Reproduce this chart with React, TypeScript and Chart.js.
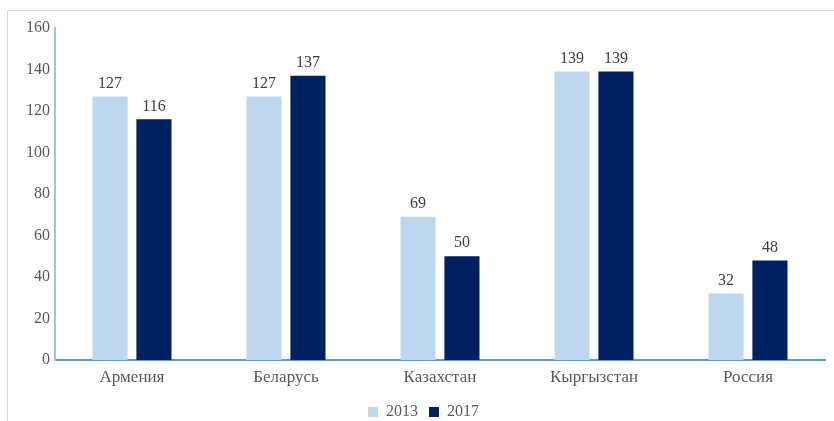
import React, { useEffect, useRef } from "react";
import { Chart, registerables } from "chart.js";

Chart.register(...registerables);

const categories = ["Армения", "Беларусь", "Казахстан", "Кыргызстан", "Россия"];
const values2013 = [127, 127, 69, 139, 32];
const values2017 = [116, 137, 50, 139, 48];
const seriesLabels = ["2013", "2017"];
const yTicks = { min: 0, max: 160, step: 20 };

const FONT = "'Liberation Serif', 'Times New Roman', serif";
const TEXT = "#595959";

const valueLabels = {
  id: "valueLabels",
  afterDatasetsDraw(chart: any) {
    const ctx = chart.ctx;
    ctx.save();
    ctx.font = `16px ${FONT}`;
    ctx.fillStyle = "#404040";
    ctx.textAlign = "center";
    ctx.textBaseline = "bottom";
    chart.data.datasets.forEach((ds: any, i: number) => {
      const meta = chart.getDatasetMeta(i);
      meta.data.forEach((el: any, j: number) => {
        ctx.fillText(String(ds.data[j]), el.x, el.y - 5);
      });
    });
    ctx.restore();
  },
};

export default function App() {
  const ref = useRef<HTMLCanvasElement>(null);
  useEffect(() => {
    if (!ref.current) return;
    const chart = new Chart(ref.current, {
      type: "bar",
      data: {
        labels: categories,
        datasets: [
          {
            label: seriesLabels[0],
            data: values2013,
            backgroundColor: "#bdd7ee",
            categoryPercentage: 0.57,
            barPercentage: 0.8,
          },
          {
            label: seriesLabels[1],
            data: values2017,
            backgroundColor: "#002060",
            categoryPercentage: 0.57,
            barPercentage: 0.8,
          },
        ],
      },
      options: {
        animation: false,
        responsive: false,
        maintainAspectRatio: false,
        layout: { padding: { top: 28, right: 9, left: 22, bottom: -9 } },
        plugins: {
          tooltip: { enabled: false },
          legend: {
            position: "bottom",
            labels: {
              boxWidth: 10,
              boxHeight: 10,
              padding: 11,
              color: TEXT,
              font: { family: FONT, size: 16 },
            },
          },
        },
        scales: {
          x: {
            grid: { display: false, drawTicks: false },
            border: { display: true, color: "#5b9bd5", width: 2 },
            ticks: { color: TEXT, font: { family: FONT, size: 17 }, padding: 7 },
            afterFit: (s: any) => {
              s.height = 33;
            },
          },
          y: {
            min: yTicks.min,
            max: yTicks.max,
            grid: { display: false, drawTicks: false },
            border: { display: true, color: "#9dc3e6", width: 2 },
            ticks: {
              stepSize: yTicks.step,
              color: TEXT,
              font: { family: FONT, size: 16 },
              padding: 5,
            },
            afterFit: (s: any) => {
              s.width = 33;
            },
          },
        },
      },
      plugins: [valueLabels],
    });
    return () => chart.destroy();
  }, []);
  return (
    <div style={{ position: "fixed", left: 0, top: 0, width: 834, height: 421, background: "#fff" }}>
      <div
        style={{
          position: "absolute",
          left: 7,
          top: 10,
          width: 900,
          height: 500,
          borderLeft: "1px solid #d9d9d9",
          borderTop: "1px solid #d9d9d9",
        }}
      />
      <canvas ref={ref} width={834} height={421} style={{ position: "absolute", left: 0, top: 0 }} />
    </div>
  );
}
